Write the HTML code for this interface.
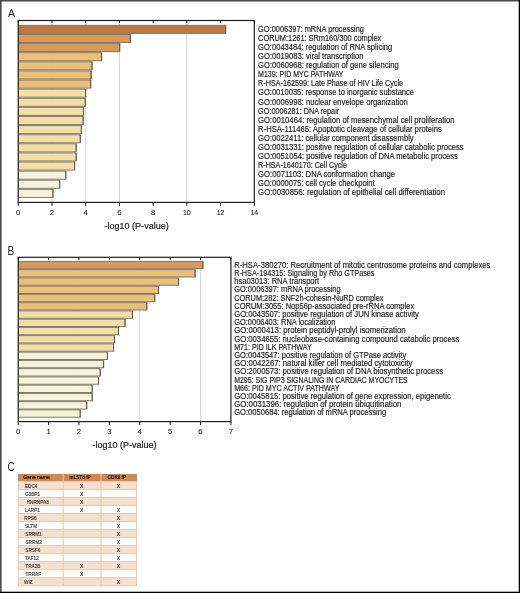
<!DOCTYPE html>
<html><head><meta charset="utf-8"><style>
html,body{margin:0;padding:0;background:#fff;}
body{width:520px;height:593px;overflow:hidden;position:relative;}
svg{position:absolute;left:0;top:0;display:block;will-change:transform;}
text{font-family:"Liberation Sans", sans-serif;}
.lb{font-size:8.4px;fill:#1a1a1a;stroke:#1a1a1a;stroke-width:0.16px;}
.tk{font-size:7.8px;fill:#1a1a1a;stroke:#1a1a1a;stroke-width:0.08px;}
.xl{font-size:8.9px;fill:#1c1c1c;stroke:#1c1c1c;stroke-width:0.2px;}
.pl{font-size:12.0px;fill:#1c1c1c;}
.th{font-size:5.0px;fill:#1e0f05;stroke:#1e0f05;stroke-width:0.2px;}
.td{font-size:5.1px;fill:#2e2e2e;stroke:#2e2e2e;stroke-width:0.12px;}
.tx{font-size:5.3px;fill:#262626;stroke:#262626;stroke-width:0.1px;}
</style></head><body>
<svg width="520" height="593" viewBox="0 0 520 593">
<rect x="0" y="0" width="520" height="593" fill="#ffffff"/>
<text x="7.9" y="17.3" class="pl" textLength="7.0" style="font-size:11.4px" lengthAdjust="spacingAndGlyphs">A</text>
<text x="7.6" y="254.5" class="pl" textLength="6.7" style="font-size:12.1px" lengthAdjust="spacingAndGlyphs">B</text>
<text x="7.4" y="470.8" class="pl" textLength="7.2" lengthAdjust="spacingAndGlyphs">C</text>
<line x1="51.971428571428575" y1="20.5" x2="51.971428571428575" y2="202.4" stroke="#d4d4d4" stroke-width="1"/>
<line x1="85.69285714285715" y1="20.5" x2="85.69285714285715" y2="202.4" stroke="#d4d4d4" stroke-width="1"/>
<line x1="119.41428571428573" y1="20.5" x2="119.41428571428573" y2="202.4" stroke="#d4d4d4" stroke-width="1"/>
<line x1="186.8571428571429" y1="20.5" x2="186.8571428571429" y2="202.4" stroke="#d4d4d4" stroke-width="1"/>
<rect x="18.25" y="24.85" width="207.90" height="9.10" fill="#7b7b7b"/>
<rect x="18.25" y="33.96" width="112.65" height="9.10" fill="#7b7b7b"/>
<rect x="18.25" y="43.07" width="101.95" height="9.10" fill="#7b7b7b"/>
<rect x="18.25" y="52.18" width="83.85" height="9.10" fill="#7b7b7b"/>
<rect x="18.25" y="61.29" width="74.25" height="9.10" fill="#7b7b7b"/>
<rect x="18.25" y="70.40" width="73.35" height="9.10" fill="#7b7b7b"/>
<rect x="18.25" y="79.51" width="72.95" height="9.10" fill="#7b7b7b"/>
<rect x="18.25" y="88.62" width="67.85" height="9.10" fill="#7b7b7b"/>
<rect x="18.25" y="97.73" width="67.55" height="9.10" fill="#7b7b7b"/>
<rect x="18.25" y="106.84" width="65.75" height="9.10" fill="#7b7b7b"/>
<rect x="18.25" y="115.95" width="65.45" height="9.10" fill="#7b7b7b"/>
<rect x="18.25" y="125.06" width="63.65" height="9.10" fill="#7b7b7b"/>
<rect x="18.25" y="134.17" width="62.55" height="9.10" fill="#7b7b7b"/>
<rect x="18.25" y="143.28" width="58.45" height="9.10" fill="#7b7b7b"/>
<rect x="18.25" y="152.39" width="58.45" height="9.10" fill="#7b7b7b"/>
<rect x="18.25" y="161.50" width="56.85" height="9.10" fill="#7b7b7b"/>
<rect x="18.25" y="170.61" width="48.05" height="9.10" fill="#7b7b7b"/>
<rect x="18.25" y="179.72" width="41.95" height="9.10" fill="#7b7b7b"/>
<rect x="18.25" y="188.83" width="35.25" height="9.10" fill="#7b7b7b"/>
<rect x="18.25" y="25.85" width="206.90" height="7.10" fill="#BF7742"/>
<rect x="225.15" y="25.35" width="1" height="8.10" fill="#5e5a55"/>
<rect x="18.25" y="34.96" width="111.65" height="7.10" fill="#DA9A56"/>
<rect x="129.90" y="34.46" width="1" height="8.10" fill="#5e5a55"/>
<rect x="18.25" y="44.07" width="100.95" height="7.10" fill="#DA9A56"/>
<rect x="119.20" y="43.57" width="1" height="8.10" fill="#5e5a55"/>
<rect x="18.25" y="53.18" width="82.85" height="7.10" fill="#EBC074"/>
<rect x="101.10" y="52.68" width="1" height="8.10" fill="#5e5a55"/>
<rect x="18.25" y="62.29" width="73.25" height="7.10" fill="#EBC074"/>
<rect x="91.50" y="61.79" width="1" height="8.10" fill="#5e5a55"/>
<rect x="18.25" y="71.40" width="72.35" height="7.10" fill="#EBC074"/>
<rect x="90.60" y="70.90" width="1" height="8.10" fill="#5e5a55"/>
<rect x="18.25" y="80.51" width="71.95" height="7.10" fill="#EBC074"/>
<rect x="90.20" y="80.01" width="1" height="8.10" fill="#5e5a55"/>
<rect x="18.25" y="89.62" width="66.85" height="7.10" fill="#F4DEA2"/>
<rect x="85.10" y="89.12" width="1" height="8.10" fill="#5e5a55"/>
<rect x="18.25" y="98.73" width="66.55" height="7.10" fill="#F4DEA2"/>
<rect x="84.80" y="98.23" width="1" height="8.10" fill="#5e5a55"/>
<rect x="18.25" y="107.84" width="64.75" height="7.10" fill="#F4DEA2"/>
<rect x="83.00" y="107.34" width="1" height="8.10" fill="#5e5a55"/>
<rect x="18.25" y="116.95" width="64.45" height="7.10" fill="#F4DEA2"/>
<rect x="82.70" y="116.45" width="1" height="8.10" fill="#5e5a55"/>
<rect x="18.25" y="126.06" width="62.65" height="7.10" fill="#F4DEA2"/>
<rect x="80.90" y="125.56" width="1" height="8.10" fill="#5e5a55"/>
<rect x="18.25" y="135.17" width="61.55" height="7.10" fill="#F4DEA2"/>
<rect x="79.80" y="134.67" width="1" height="8.10" fill="#5e5a55"/>
<rect x="18.25" y="144.28" width="57.45" height="7.10" fill="#F4DEA2"/>
<rect x="75.70" y="143.78" width="1" height="8.10" fill="#5e5a55"/>
<rect x="18.25" y="153.39" width="57.45" height="7.10" fill="#F4DEA2"/>
<rect x="75.70" y="152.89" width="1" height="8.10" fill="#5e5a55"/>
<rect x="18.25" y="162.50" width="55.85" height="7.10" fill="#F4DEA2"/>
<rect x="74.10" y="162.00" width="1" height="8.10" fill="#5e5a55"/>
<rect x="18.25" y="171.61" width="47.05" height="7.10" fill="#F8F2D6"/>
<rect x="65.30" y="171.11" width="1" height="8.10" fill="#5e5a55"/>
<rect x="18.25" y="180.72" width="40.95" height="7.10" fill="#F8F2D6"/>
<rect x="59.20" y="180.22" width="1" height="8.10" fill="#5e5a55"/>
<rect x="18.25" y="189.83" width="34.25" height="7.10" fill="#F8F2D6"/>
<rect x="52.50" y="189.33" width="1" height="8.10" fill="#5e5a55"/>
<rect x="18.25" y="20.5" width="236.05" height="181.9" fill="none" stroke="#1e1e1e" stroke-width="1.2"/>
<line x1="18.25" y1="20.5" x2="18.25" y2="23.0" stroke="#1e1e1e" stroke-width="1"/>
<line x1="18.25" y1="202.4" x2="18.25" y2="205.8" stroke="#1a1a1a" stroke-width="1.05"/>
<line x1="51.97" y1="20.5" x2="51.97" y2="23.0" stroke="#1e1e1e" stroke-width="1"/>
<line x1="51.97" y1="202.4" x2="51.97" y2="205.8" stroke="#1a1a1a" stroke-width="1.05"/>
<line x1="85.69" y1="20.5" x2="85.69" y2="23.0" stroke="#1e1e1e" stroke-width="1"/>
<line x1="85.69" y1="202.4" x2="85.69" y2="205.8" stroke="#1a1a1a" stroke-width="1.05"/>
<line x1="119.41" y1="20.5" x2="119.41" y2="23.0" stroke="#1e1e1e" stroke-width="1"/>
<line x1="119.41" y1="202.4" x2="119.41" y2="205.8" stroke="#1a1a1a" stroke-width="1.05"/>
<line x1="153.14" y1="20.5" x2="153.14" y2="23.0" stroke="#1e1e1e" stroke-width="1"/>
<line x1="153.14" y1="202.4" x2="153.14" y2="205.8" stroke="#1a1a1a" stroke-width="1.05"/>
<line x1="186.86" y1="20.5" x2="186.86" y2="23.0" stroke="#1e1e1e" stroke-width="1"/>
<line x1="186.86" y1="202.4" x2="186.86" y2="205.8" stroke="#1a1a1a" stroke-width="1.05"/>
<line x1="220.58" y1="20.5" x2="220.58" y2="23.0" stroke="#1e1e1e" stroke-width="1"/>
<line x1="220.58" y1="202.4" x2="220.58" y2="205.8" stroke="#1a1a1a" stroke-width="1.05"/>
<line x1="254.30" y1="20.5" x2="254.30" y2="23.0" stroke="#1e1e1e" stroke-width="1"/>
<line x1="254.30" y1="202.4" x2="254.30" y2="205.8" stroke="#1a1a1a" stroke-width="1.05"/>
<text x="18.25" y="214.90" text-anchor="middle" class="tk">0</text>
<text x="51.97" y="214.90" text-anchor="middle" class="tk">2</text>
<text x="85.69" y="214.90" text-anchor="middle" class="tk">4</text>
<text x="119.41" y="214.90" text-anchor="middle" class="tk">6</text>
<text x="153.14" y="214.90" text-anchor="middle" class="tk">8</text>
<text x="182.96" y="214.90" class="tk" textLength="7.8" lengthAdjust="spacingAndGlyphs">10</text>
<text x="216.68" y="214.90" class="tk" textLength="7.8" lengthAdjust="spacingAndGlyphs">12</text>
<text x="250.40" y="214.90" class="tk" textLength="7.8" lengthAdjust="spacingAndGlyphs">14</text>
<text x="104.40" y="228.80" class="xl" textLength="64.4" lengthAdjust="spacingAndGlyphs">-log10 (P-value)</text>
<text x="258.1" y="32.00" class="lb" textLength="105.9" lengthAdjust="spacingAndGlyphs">GO:0006397: mRNA processing</text>
<text x="258.1" y="41.07" class="lb" textLength="123.2" lengthAdjust="spacingAndGlyphs">CORUM:1261: SRm160/300 complex</text>
<text x="258.1" y="50.14" class="lb" textLength="134.2" lengthAdjust="spacingAndGlyphs">GO:0043484: regulation of RNA splicing</text>
<text x="258.1" y="59.21" class="lb" textLength="105.4" lengthAdjust="spacingAndGlyphs">GO:0019083: viral transcription</text>
<text x="258.1" y="68.28" class="lb" textLength="140.6" lengthAdjust="spacingAndGlyphs">GO:0060968: regulation of gene silencing</text>
<text x="258.1" y="77.35" class="lb" textLength="85.4" lengthAdjust="spacingAndGlyphs">M139: PID MYC PATHWAY</text>
<text x="258.1" y="86.42" class="lb" textLength="145.0" lengthAdjust="spacingAndGlyphs">R-HSA-162599: Late Phase of HIV Life Cycle</text>
<text x="258.1" y="95.49" class="lb" textLength="155.9" lengthAdjust="spacingAndGlyphs">GO:0010035: response to inorganic substance</text>
<text x="258.1" y="104.56" class="lb" textLength="149.6" lengthAdjust="spacingAndGlyphs">GO:0006998: nuclear envelope organization</text>
<text x="258.1" y="113.63" class="lb" textLength="81.1" lengthAdjust="spacingAndGlyphs">GO:0006281: DNA repair</text>
<text x="258.1" y="122.70" class="lb" textLength="196.5" lengthAdjust="spacingAndGlyphs">GO:0010464: regulation of mesenchymal cell proliferation</text>
<text x="258.1" y="131.77" class="lb" textLength="183.8" lengthAdjust="spacingAndGlyphs">R-HSA-111465: Apoptotic cleavage of cellular proteins</text>
<text x="258.1" y="140.84" class="lb" textLength="155.6" lengthAdjust="spacingAndGlyphs">GO:0022411: cellular component disassembly</text>
<text x="258.1" y="149.91" class="lb" textLength="205.6" lengthAdjust="spacingAndGlyphs">GO:0031331: positive regulation of cellular catabolic process</text>
<text x="258.1" y="158.98" class="lb" textLength="199.8" lengthAdjust="spacingAndGlyphs">GO:0051054: positive regulation of DNA metabolic process</text>
<text x="258.1" y="168.05" class="lb" textLength="88.8" lengthAdjust="spacingAndGlyphs">R-HSA-1640170: Cell Cycle</text>
<text x="258.1" y="177.12" class="lb" textLength="136.9" lengthAdjust="spacingAndGlyphs">GO:0071103: DNA conformation change</text>
<text x="258.1" y="186.19" class="lb" textLength="116.5" lengthAdjust="spacingAndGlyphs">GO:0000075: cell cycle checkpoint</text>
<text x="258.1" y="195.26" class="lb" textLength="186.9" lengthAdjust="spacingAndGlyphs">GO:0030856: regulation of epithelial cell differentiation</text>
<line x1="79.00714285714287" y1="257.3" x2="79.00714285714287" y2="421.6" stroke="#d4d4d4" stroke-width="1"/>
<line x1="139.76428571428573" y1="257.3" x2="139.76428571428573" y2="421.6" stroke="#d4d4d4" stroke-width="1"/>
<line x1="200.52142857142857" y1="257.3" x2="200.52142857142857" y2="421.6" stroke="#d4d4d4" stroke-width="1"/>
<rect x="18.25" y="260.90" width="185.15" height="8.35" fill="#7b7b7b"/>
<rect x="18.25" y="269.15" width="177.35" height="8.35" fill="#7b7b7b"/>
<rect x="18.25" y="277.40" width="160.75" height="8.35" fill="#7b7b7b"/>
<rect x="18.25" y="285.65" width="140.75" height="8.35" fill="#7b7b7b"/>
<rect x="18.25" y="293.90" width="136.95" height="8.35" fill="#7b7b7b"/>
<rect x="18.25" y="302.15" width="129.05" height="8.35" fill="#7b7b7b"/>
<rect x="18.25" y="310.40" width="114.65" height="8.35" fill="#7b7b7b"/>
<rect x="18.25" y="318.65" width="107.25" height="8.35" fill="#7b7b7b"/>
<rect x="18.25" y="326.90" width="100.75" height="8.35" fill="#7b7b7b"/>
<rect x="18.25" y="335.15" width="96.65" height="8.35" fill="#7b7b7b"/>
<rect x="18.25" y="343.40" width="95.75" height="8.35" fill="#7b7b7b"/>
<rect x="18.25" y="351.65" width="89.65" height="8.35" fill="#7b7b7b"/>
<rect x="18.25" y="359.90" width="85.85" height="8.35" fill="#7b7b7b"/>
<rect x="18.25" y="368.15" width="82.45" height="8.35" fill="#7b7b7b"/>
<rect x="18.25" y="376.40" width="80.75" height="8.35" fill="#7b7b7b"/>
<rect x="18.25" y="384.65" width="74.45" height="8.35" fill="#7b7b7b"/>
<rect x="18.25" y="392.90" width="74.45" height="8.35" fill="#7b7b7b"/>
<rect x="18.25" y="401.15" width="68.95" height="8.35" fill="#7b7b7b"/>
<rect x="18.25" y="409.40" width="62.45" height="8.35" fill="#7b7b7b"/>
<rect x="18.25" y="261.90" width="184.15" height="6.35" fill="#DA9A56"/>
<rect x="202.40" y="261.40" width="1" height="7.35" fill="#5e5a55"/>
<rect x="18.25" y="270.15" width="176.35" height="6.35" fill="#EBC074"/>
<rect x="194.60" y="269.65" width="1" height="7.35" fill="#5e5a55"/>
<rect x="18.25" y="278.40" width="159.75" height="6.35" fill="#EBC074"/>
<rect x="178.00" y="277.90" width="1" height="7.35" fill="#5e5a55"/>
<rect x="18.25" y="286.65" width="139.75" height="6.35" fill="#EBC074"/>
<rect x="158.00" y="286.15" width="1" height="7.35" fill="#5e5a55"/>
<rect x="18.25" y="294.90" width="135.95" height="6.35" fill="#EBC074"/>
<rect x="154.20" y="294.40" width="1" height="7.35" fill="#5e5a55"/>
<rect x="18.25" y="303.15" width="128.05" height="6.35" fill="#EBC074"/>
<rect x="146.30" y="302.65" width="1" height="7.35" fill="#5e5a55"/>
<rect x="18.25" y="311.40" width="113.65" height="6.35" fill="#F4DEA2"/>
<rect x="131.90" y="310.90" width="1" height="7.35" fill="#5e5a55"/>
<rect x="18.25" y="319.65" width="106.25" height="6.35" fill="#F4DEA2"/>
<rect x="124.50" y="319.15" width="1" height="7.35" fill="#5e5a55"/>
<rect x="18.25" y="327.90" width="99.75" height="6.35" fill="#F4DEA2"/>
<rect x="118.00" y="327.40" width="1" height="7.35" fill="#5e5a55"/>
<rect x="18.25" y="336.15" width="95.65" height="6.35" fill="#F4DEA2"/>
<rect x="113.90" y="335.65" width="1" height="7.35" fill="#5e5a55"/>
<rect x="18.25" y="344.40" width="94.75" height="6.35" fill="#F4DEA2"/>
<rect x="113.00" y="343.90" width="1" height="7.35" fill="#5e5a55"/>
<rect x="18.25" y="352.65" width="88.65" height="6.35" fill="#F8F2D6"/>
<rect x="106.90" y="352.15" width="1" height="7.35" fill="#5e5a55"/>
<rect x="18.25" y="360.90" width="84.85" height="6.35" fill="#F8F2D6"/>
<rect x="103.10" y="360.40" width="1" height="7.35" fill="#5e5a55"/>
<rect x="18.25" y="369.15" width="81.45" height="6.35" fill="#F8F2D6"/>
<rect x="99.70" y="368.65" width="1" height="7.35" fill="#5e5a55"/>
<rect x="18.25" y="377.40" width="79.75" height="6.35" fill="#F8F2D6"/>
<rect x="98.00" y="376.90" width="1" height="7.35" fill="#5e5a55"/>
<rect x="18.25" y="385.65" width="73.45" height="6.35" fill="#F8F2D6"/>
<rect x="91.70" y="385.15" width="1" height="7.35" fill="#5e5a55"/>
<rect x="18.25" y="393.90" width="73.45" height="6.35" fill="#F8F2D6"/>
<rect x="91.70" y="393.40" width="1" height="7.35" fill="#5e5a55"/>
<rect x="18.25" y="402.15" width="67.95" height="6.35" fill="#F8F2D6"/>
<rect x="86.20" y="401.65" width="1" height="7.35" fill="#5e5a55"/>
<rect x="18.25" y="410.40" width="61.45" height="6.35" fill="#F8F2D6"/>
<rect x="79.70" y="409.90" width="1" height="7.35" fill="#5e5a55"/>
<rect x="18.25" y="257.3" width="212.65" height="164.3" fill="none" stroke="#1e1e1e" stroke-width="1.2"/>
<line x1="18.25" y1="257.3" x2="18.25" y2="259.8" stroke="#1e1e1e" stroke-width="1"/>
<line x1="18.25" y1="421.6" x2="18.25" y2="425.0" stroke="#1a1a1a" stroke-width="1.05"/>
<line x1="48.63" y1="257.3" x2="48.63" y2="259.8" stroke="#1e1e1e" stroke-width="1"/>
<line x1="48.63" y1="421.6" x2="48.63" y2="425.0" stroke="#1a1a1a" stroke-width="1.05"/>
<line x1="79.01" y1="257.3" x2="79.01" y2="259.8" stroke="#1e1e1e" stroke-width="1"/>
<line x1="79.01" y1="421.6" x2="79.01" y2="425.0" stroke="#1a1a1a" stroke-width="1.05"/>
<line x1="109.39" y1="257.3" x2="109.39" y2="259.8" stroke="#1e1e1e" stroke-width="1"/>
<line x1="109.39" y1="421.6" x2="109.39" y2="425.0" stroke="#1a1a1a" stroke-width="1.05"/>
<line x1="139.76" y1="257.3" x2="139.76" y2="259.8" stroke="#1e1e1e" stroke-width="1"/>
<line x1="139.76" y1="421.6" x2="139.76" y2="425.0" stroke="#1a1a1a" stroke-width="1.05"/>
<line x1="170.14" y1="257.3" x2="170.14" y2="259.8" stroke="#1e1e1e" stroke-width="1"/>
<line x1="170.14" y1="421.6" x2="170.14" y2="425.0" stroke="#1a1a1a" stroke-width="1.05"/>
<line x1="200.52" y1="257.3" x2="200.52" y2="259.8" stroke="#1e1e1e" stroke-width="1"/>
<line x1="200.52" y1="421.6" x2="200.52" y2="425.0" stroke="#1a1a1a" stroke-width="1.05"/>
<line x1="230.90" y1="257.3" x2="230.90" y2="259.8" stroke="#1e1e1e" stroke-width="1"/>
<line x1="230.90" y1="421.6" x2="230.90" y2="425.0" stroke="#1a1a1a" stroke-width="1.05"/>
<text x="18.25" y="434.10" text-anchor="middle" class="tk">0</text>
<text x="48.63" y="434.10" text-anchor="middle" class="tk">1</text>
<text x="79.01" y="434.10" text-anchor="middle" class="tk">2</text>
<text x="109.39" y="434.10" text-anchor="middle" class="tk">3</text>
<text x="139.76" y="434.10" text-anchor="middle" class="tk">4</text>
<text x="170.14" y="434.10" text-anchor="middle" class="tk">5</text>
<text x="200.52" y="434.10" text-anchor="middle" class="tk">6</text>
<text x="230.90" y="434.10" text-anchor="middle" class="tk">7</text>
<text x="92.50" y="448.00" class="xl" textLength="64.0" lengthAdjust="spacingAndGlyphs">-log10 (P-value)</text>
<text x="234.2" y="267.70" class="lb" textLength="256.2" lengthAdjust="spacingAndGlyphs">R-HSA-380270: Recruitment of mitotic centrosome proteins and complexes</text>
<text x="234.2" y="275.91" class="lb" textLength="140.3" lengthAdjust="spacingAndGlyphs">R-HSA-194315: Signaling by Rho GTPases</text>
<text x="234.2" y="284.12" class="lb" textLength="85.0" lengthAdjust="spacingAndGlyphs">hsa03013: RNA transport</text>
<text x="234.2" y="292.33" class="lb" textLength="106.4" lengthAdjust="spacingAndGlyphs">GO:0006397: mRNA processing</text>
<text x="234.2" y="300.54" class="lb" textLength="149.3" lengthAdjust="spacingAndGlyphs">CORUM:282: SNF2h-cohesin-NuRD complex</text>
<text x="234.2" y="308.75" class="lb" textLength="180.0" lengthAdjust="spacingAndGlyphs">CORUM:3055: Nop56p-associated pre-rRNA complex</text>
<text x="234.2" y="316.96" class="lb" textLength="184.7" lengthAdjust="spacingAndGlyphs">GO:0043507: positive regulation of JUN kinase activity</text>
<text x="234.2" y="325.17" class="lb" textLength="101.1" lengthAdjust="spacingAndGlyphs">GO:0006403: RNA localization</text>
<text x="234.2" y="333.38" class="lb" textLength="171.5" lengthAdjust="spacingAndGlyphs">GO:0000413: protein peptidyl-prolyl isomerization</text>
<text x="234.2" y="341.59" class="lb" textLength="225.2" lengthAdjust="spacingAndGlyphs">GO:0034655: nucleobase-containing compound catabolic process</text>
<text x="234.2" y="349.80" class="lb" textLength="77.5" lengthAdjust="spacingAndGlyphs">M71: PID ILK PATHWAY</text>
<text x="234.2" y="358.01" class="lb" textLength="172.0" lengthAdjust="spacingAndGlyphs">GO:0043547: positive regulation of GTPase activity</text>
<text x="234.2" y="366.22" class="lb" textLength="178.1" lengthAdjust="spacingAndGlyphs">GO:0042267: natural killer cell mediated cytotoxicity</text>
<text x="234.2" y="374.43" class="lb" textLength="208.9" lengthAdjust="spacingAndGlyphs">GO:2000573: positive regulation of DNA biosynthetic process</text>
<text x="234.2" y="382.64" class="lb" textLength="173.5" lengthAdjust="spacingAndGlyphs">M295: SIG PIP3 SIGNALING IN CARDIAC MYOCYTES</text>
<text x="234.2" y="390.85" class="lb" textLength="105.2" lengthAdjust="spacingAndGlyphs">M66: PID MYC ACTIV PATHWAY</text>
<text x="234.2" y="399.06" class="lb" textLength="216.6" lengthAdjust="spacingAndGlyphs">GO:0045815: positive regulation of gene expression, epigenetic</text>
<text x="234.2" y="407.27" class="lb" textLength="167.3" lengthAdjust="spacingAndGlyphs">GO:0031396: regulation of protein ubiquitination</text>
<text x="234.2" y="415.48" class="lb" textLength="152.0" lengthAdjust="spacingAndGlyphs">GO:0050684: regulation of mRNA processing</text>
<rect x="17.9" y="473.9" width="119.1" height="7.5" fill="#CE8854"/>
<rect x="17.9" y="481.40" width="119.1" height="8.03" fill="#F3E1D4"/>
<rect x="17.9" y="489.43" width="119.1" height="8.03" fill="#FFFFFF"/>
<rect x="17.9" y="497.46" width="119.1" height="8.03" fill="#F3E1D4"/>
<rect x="17.9" y="505.49" width="119.1" height="8.03" fill="#FFFFFF"/>
<rect x="17.9" y="513.52" width="119.1" height="8.03" fill="#F3E1D4"/>
<rect x="17.9" y="521.55" width="119.1" height="8.03" fill="#FFFFFF"/>
<rect x="17.9" y="529.58" width="119.1" height="8.03" fill="#F3E1D4"/>
<rect x="17.9" y="537.61" width="119.1" height="8.03" fill="#FFFFFF"/>
<rect x="17.9" y="545.64" width="119.1" height="8.03" fill="#F3E1D4"/>
<rect x="17.9" y="553.67" width="119.1" height="8.03" fill="#FFFFFF"/>
<rect x="17.9" y="561.70" width="119.1" height="8.03" fill="#F3E1D4"/>
<rect x="17.9" y="569.73" width="119.1" height="8.03" fill="#FFFFFF"/>
<rect x="17.9" y="577.76" width="119.1" height="8.03" fill="#F3E1D4"/>
<line x1="17.9" y1="481.40" x2="137.0" y2="481.40" stroke="#EDC3A3" stroke-width="1"/>
<line x1="17.9" y1="489.43" x2="137.0" y2="489.43" stroke="#EDC3A3" stroke-width="1"/>
<line x1="17.9" y1="497.46" x2="137.0" y2="497.46" stroke="#EDC3A3" stroke-width="1"/>
<line x1="17.9" y1="505.49" x2="137.0" y2="505.49" stroke="#EDC3A3" stroke-width="1"/>
<line x1="17.9" y1="513.52" x2="137.0" y2="513.52" stroke="#EDC3A3" stroke-width="1"/>
<line x1="17.9" y1="521.55" x2="137.0" y2="521.55" stroke="#EDC3A3" stroke-width="1"/>
<line x1="17.9" y1="529.58" x2="137.0" y2="529.58" stroke="#EDC3A3" stroke-width="1"/>
<line x1="17.9" y1="537.61" x2="137.0" y2="537.61" stroke="#EDC3A3" stroke-width="1"/>
<line x1="17.9" y1="545.64" x2="137.0" y2="545.64" stroke="#EDC3A3" stroke-width="1"/>
<line x1="17.9" y1="553.67" x2="137.0" y2="553.67" stroke="#EDC3A3" stroke-width="1"/>
<line x1="17.9" y1="561.70" x2="137.0" y2="561.70" stroke="#EDC3A3" stroke-width="1"/>
<line x1="17.9" y1="569.73" x2="137.0" y2="569.73" stroke="#EDC3A3" stroke-width="1"/>
<line x1="17.9" y1="577.76" x2="137.0" y2="577.76" stroke="#EDC3A3" stroke-width="1"/>
<line x1="17.9" y1="585.79" x2="137.0" y2="585.79" stroke="#EDC3A3" stroke-width="1"/>
<line x1="18.299999999999997" y1="481.4" x2="18.299999999999997" y2="585.79" stroke="#EDC3A3" stroke-width="1"/>
<line x1="136.6" y1="481.4" x2="136.6" y2="585.79" stroke="#EDC3A3" stroke-width="1"/>
<line x1="63.2" y1="473.9" x2="63.2" y2="585.79" stroke="#EDC3A3" stroke-width="1"/>
<line x1="101.0" y1="473.9" x2="101.0" y2="585.79" stroke="#EDC3A3" stroke-width="1"/>
<text x="23.3" y="479.2" class="th" textLength="26.5" lengthAdjust="spacingAndGlyphs">Gene name</text>
<text x="69.6" y="479.2" class="th" textLength="21" lengthAdjust="spacingAndGlyphs">mLST8 IP</text>
<text x="107.6" y="479.2" class="th" textLength="18.4" lengthAdjust="spacingAndGlyphs">CDK9 IP</text>
<text transform="translate(24.9,487.50) scale(0.92,1)" class="td">EDC4</text>
<text x="81.7" y="487.50" class="tx" text-anchor="middle">X</text>
<text x="118.6" y="487.50" class="tx" text-anchor="middle">X</text>
<text transform="translate(24.9,495.53) scale(0.92,1)" class="td">G3BP1</text>
<text x="81.7" y="495.53" class="tx" text-anchor="middle">X</text>
<text transform="translate(26.7,503.56) scale(0.92,1)" class="td">HNRNPA3</text>
<text x="81.7" y="503.56" class="tx" text-anchor="middle">X</text>
<text transform="translate(24.9,511.59) scale(0.92,1)" class="td">LARP1</text>
<text x="81.7" y="511.59" class="tx" text-anchor="middle">X</text>
<text x="118.6" y="511.59" class="tx" text-anchor="middle">X</text>
<text transform="translate(24.3,519.62) scale(0.92,1)" class="td">RPS6</text>
<text x="118.6" y="519.62" class="tx" text-anchor="middle">X</text>
<text transform="translate(24.9,527.65) scale(0.92,1)" class="td">SLTM</text>
<text x="118.6" y="527.65" class="tx" text-anchor="middle">X</text>
<text transform="translate(25.3,535.68) scale(0.92,1)" class="td">SRRM1</text>
<text x="118.6" y="535.68" class="tx" text-anchor="middle">X</text>
<text transform="translate(25.5,543.71) scale(0.92,1)" class="td">SRRM2</text>
<text x="118.6" y="543.71" class="tx" text-anchor="middle">X</text>
<text transform="translate(25.3,551.74) scale(0.92,1)" class="td">SRSF6</text>
<text x="118.6" y="551.74" class="tx" text-anchor="middle">X</text>
<text transform="translate(25.0,559.77) scale(0.92,1)" class="td">TAF12</text>
<text x="118.6" y="559.77" class="tx" text-anchor="middle">X</text>
<text transform="translate(25.3,567.80) scale(0.92,1)" class="td">TRA2B</text>
<text x="81.7" y="567.80" class="tx" text-anchor="middle">X</text>
<text x="118.6" y="567.80" class="tx" text-anchor="middle">X</text>
<text transform="translate(25.5,575.83) scale(0.92,1)" class="td">TRRAP</text>
<text x="81.7" y="575.83" class="tx" text-anchor="middle">X</text>
<text transform="translate(24.0,583.86) scale(0.92,1)" class="td">WIZ</text>
<text x="118.6" y="583.86" class="tx" text-anchor="middle">X</text>
<rect x="0" y="0" width="520" height="1.5" fill="#4a4a4a"/>
<rect x="0" y="0" width="1.6" height="593" fill="#4a4a4a"/>
<rect x="518.7" y="0" width="1.3" height="593" fill="#000"/>
<rect x="0" y="591.7" width="520" height="1.3" fill="#000"/>
</svg>
</body></html>
